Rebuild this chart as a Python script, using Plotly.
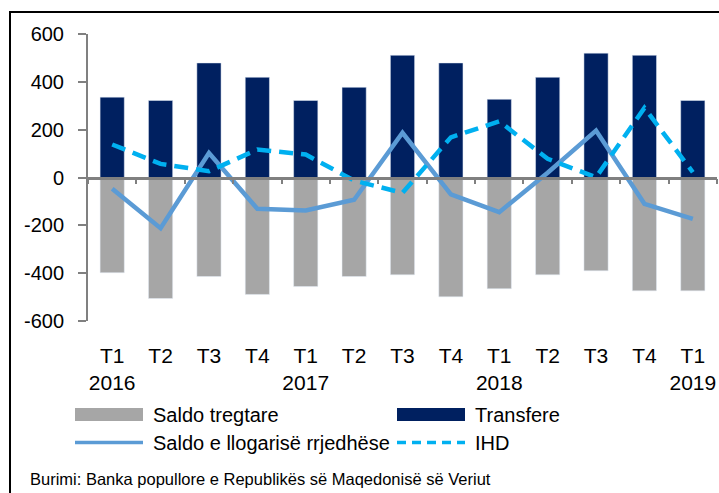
import plotly.graph_objects as go

# ---- data ----
quarters = ["T1", "T2", "T3", "T4", "T1", "T2", "T3", "T4", "T1", "T2", "T3", "T4", "T1"]
years = ["2016", "", "", "", "2017", "", "", "", "2018", "", "", "", "2019"]
saldo_tregtare = [-398, -506, -414, -489, -456, -414, -407, -499, -465, -407, -390, -474, -474]
transfere = [336, 322, 479, 419, 322, 377, 511, 479, 327, 419, 520, 511, 322]
saldo_llogarise = [-47, -212, 102, -131, -138, -93, 187, -71, -145, 20, 196, -110, -173]
ihd = [138, 57, 26, 117, 96, -13, -64, 168, 235, 78, 1, 291, 22]
series_names = ["Saldo tregtare", "Transfere", "Saldo e llogarisë rrjedhëse", "IHD"]
y_ticks = [600, 400, 200, 0, -200, -400, -600]
source_text = "Burimi: Banka popullore e Republikës së Maqedonisë së Veriut"

GRAY = "#A6A6A6"
NAVY = "#002060"
MID_BLUE = "#5B9BD5"
CYAN = "#00B0F0"
FONT = "Liberation Sans, Arial, sans-serif"

W, H = 719, 493
PLOT_L, PLOT_R, PLOT_T, PLOT_B = 88, 717, 34, 321  # target page pixels
L, T = PLOT_L, PLOT_T
R, B = W - PLOT_R, H - PLOT_B
PW, PH = PLOT_R - PLOT_L, PLOT_B - PLOT_T

def px_x(px):
    return (px - PLOT_L) / PW

def px_y(py):
    return (PLOT_B - py) / PH

n = len(quarters)
xs = list(range(n))
tick_text = [q + ("<br>" + y if y else "") for q, y in zip(quarters, years)]
y_tick_text = [str(v) for v in y_ticks]

fig = go.Figure()
fig.add_trace(go.Bar(x=xs, y=saldo_tregtare, name=series_names[0], marker_color=GRAY,
                     width=0.5, showlegend=False))
fig.add_trace(go.Bar(x=xs, y=transfere, name=series_names[1], marker_color=NAVY,
                     width=0.5, showlegend=False))
fig.add_trace(go.Scatter(x=xs, y=saldo_llogarise, name=series_names[2], mode="lines",
                         line=dict(color=MID_BLUE, width=4.5), showlegend=False))
fig.add_trace(go.Scatter(x=xs, y=ihd, name=series_names[3], mode="lines",
                         line=dict(color=CYAN, width=4.5, dash="14px,8px"), showlegend=False))
# helper trace so the zero-line axis is drawn
fig.add_trace(go.Scatter(x=[None], y=[None], xaxis="x2", showlegend=False, hoverinfo="skip"))

fig.update_layout(
    width=W, height=H,
    margin=dict(l=L, r=R, t=T, b=B, autoexpand=False),
    paper_bgcolor="white", plot_bgcolor="white",
    barmode="relative",
    font=dict(family=FONT, color="black"),
    xaxis=dict(range=[-0.5, n - 0.5], tickvals=xs, ticktext=tick_text, automargin=False,
               ticks="", showline=False, showgrid=False, zeroline=False,
               tickfont=dict(size=21, color="black"), ticklabelstandoff=20),
    xaxis2=dict(range=[-0.5, n - 0.5], overlaying="x", anchor="free", position=0.5,
                tickvals=[i - 0.5 for i in range(n + 1)], ticks="outside", ticklen=5,
                tickwidth=1.5, tickcolor="#808080", showticklabels=False, automargin=False,
                showline=True, linecolor="#808080", linewidth=2.5, showgrid=False,
                zeroline=False, side="bottom"),
    yaxis=dict(range=[-600, 600], tickvals=y_ticks, ticktext=y_tick_text, ticks="outside",
               ticklen=8, tickwidth=2, tickcolor="#808080", showline=True,
               linecolor="#808080", automargin=False,
               linewidth=2, showgrid=False, zeroline=False,
               tickfont=dict(size=20, color="black"), ticklabelstandoff=10),
)

# outer frame
fig.add_shape(type="rect", xref="paper", yref="paper",
              x0=px_x(10), x1=px_x(730), y0=px_y(520), y1=px_y(12),
              line=dict(color="black", width=2), fillcolor="rgba(0,0,0,0)", layer="below")

# manual legend
rows = [414.5, 442.5]
cols = [(75, 143, 151), (397, 465, 473)]
legend_items = [
    (series_names[0], "bar", GRAY, 0, 0),
    (series_names[1], "bar", NAVY, 0, 1),
    (series_names[2], "line", MID_BLUE, 1, 0),
    (series_names[3], "dash", CYAN, 1, 1),
]
for name, kind, color, r, c in legend_items:
    yc = rows[r]
    x0, x1, xt = cols[c]
    if kind == "bar":
        fig.add_shape(type="rect", xref="paper", yref="paper",
                      x0=px_x(x0), x1=px_x(x1), y0=px_y(yc + 6.5), y1=px_y(yc - 6.5),
                      fillcolor=color, line=dict(width=0))
    else:
        fig.add_shape(type="line", xref="paper", yref="paper",
                      x0=px_x(x0), x1=px_x(x1), y0=px_y(yc), y1=px_y(yc),
                      line=dict(color=color, width=3.5,
                                dash="9px,6px" if kind == "dash" else "solid"))
    fig.add_annotation(text=name, xref="paper", yref="paper", x=px_x(xt), y=px_y(yc),
                       xanchor="left", yanchor="middle", showarrow=False,
                       font=dict(size=20, color="black", family=FONT))

fig.add_annotation(text=source_text, xref="paper", yref="paper", x=px_x(28), y=px_y(479),
                   xanchor="left", yanchor="middle", showarrow=False,
                   font=dict(size=16.5, color="black", family=FONT))

fig.write_html(
    "out.html",
    config={"displayModeBar": False},
    post_script="document.body.style.margin='0';document.body.style.overflow='hidden';",
)
